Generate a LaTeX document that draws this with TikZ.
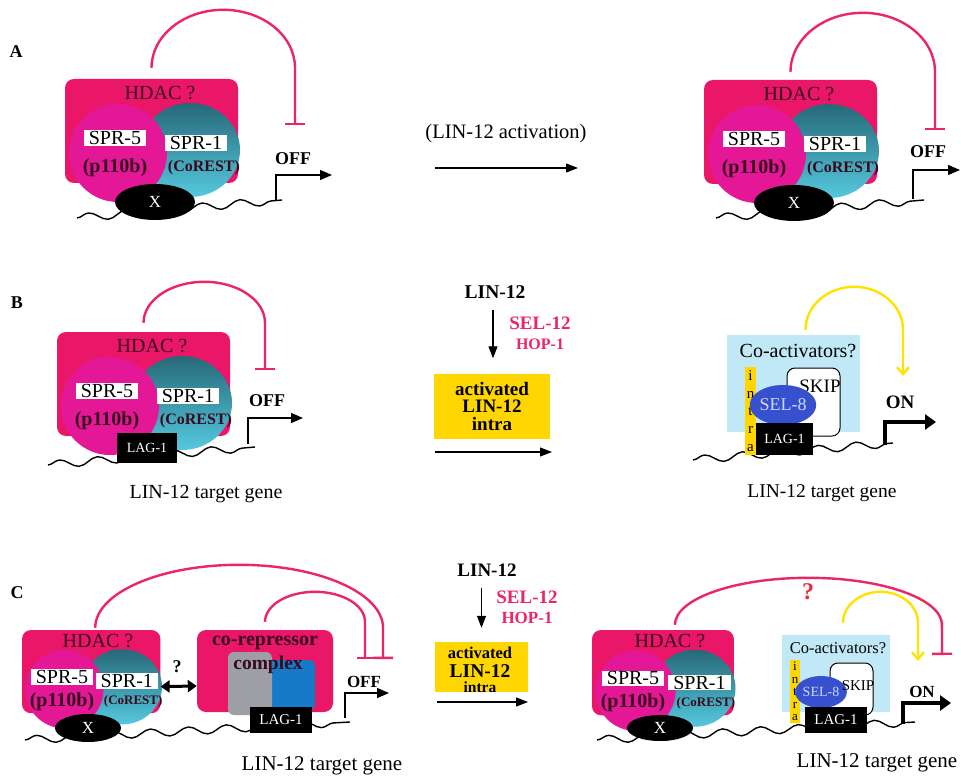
\documentclass[tikz,border=0pt]{standalone}
\usepackage{fontspec}
\setmainfont{Liberation Serif}
\usetikzlibrary{arrows.meta,decorations.pathmorphing,shapes.geometric}

\definecolor{hdacpink}{RGB}{234,22,104}
\definecolor{sprmag}{RGB}{228,24,150}
\definecolor{tealdark}{RGB}{38,105,120}
\definecolor{teallight}{RGB}{85,200,222}
\definecolor{inkdark}{RGB}{55,10,30}
\definecolor{arcpink}{RGB}{236,38,100}
\definecolor{coblue}{RGB}{192,232,246}
\definecolor{intrayel}{RGB}{255,214,0}
\definecolor{selblue}{RGB}{55,80,205}
\definecolor{seltext}{RGB}{205,215,255}
\definecolor{repgray}{RGB}{158,158,165}
\definecolor{repblue}{RGB}{22,122,200}
\definecolor{arcyel}{RGB}{255,226,0}
\definecolor{qred}{RGB}{232,45,60}

% HDAC box with SPR-5 / SPR-1
% #1 name prefix, #2,#3 top left corner, #4 scale, #5 size of (CoREST)
\newcommand{\hdaccomplex}[5]{%
  \begin{scope}[shift={(#2,#3)}, scale=#4]
    \node[hdacbox, minimum width={173*#4}, minimum height={104*#4}] (#1H) at (86.5,52) {};
    \shade[top color=tealdark, bottom color=teallight] (125,71) ellipse[x radius=50, y radius=47];
    \fill[sprmag] (53,74) circle[radius=49];
    \node[font=\fontsize{20}{22}\selectfont, text=inkdark] (#1Hl) at (95,14) {HDAC ?};
    \node[labbox] (#1S5) at (50,59) {SPR-5};
    \node[labbox] (#1S1) at (131,64) {SPR-1};
    \node[font=\bfseries\fontsize{20}{22}\selectfont, text=inkdark] (#1P) at (50,89) {(p110b)};
    \node[font=\bfseries\fontsize{#5}{#5}\selectfont, text=inkdark] (#1C) at (139,89) {(CoREST)};
  \end{scope}}

\begin{document}
\begin{tikzpicture}[x=1pt, y=-1pt,
  hdacbox/.style={rectangle, rounded corners=9pt, fill=hdacpink, inner sep=0pt},
  labbox/.style={fill=white, font=\fontsize{20}{22}\selectfont, inner xsep=5pt, inner ysep=1pt},
  xbody/.style={ellipse, fill=black, text=white, inner sep=0pt, font=\fontsize{17}{19}\selectfont},
  lagbox/.style={fill=black, text=white, inner sep=0pt, font=\fontsize{14}{16}\selectfont},
  dna/.style={line width=1.4pt, decorate, decoration={snake, amplitude=4pt, segment length=38pt}},
  prom/.style={line width=1.3pt, -{Triangle[length=12pt, width=10pt]}},
  promon/.style={line width=4pt, -{Triangle[length=11pt, width=15pt]}},
  inhib/.style={arcpink, line width=2.4pt, -{Bar[width=20pt]}},
  actarc/.style={arcyel, line width=2.4pt, -{Straight Barb[length=7pt, width=12pt]}},
  flow/.style={line width=1.2pt, -{Triangle[length=12pt, width=9pt]}},
  panel/.style={font=\bfseries\fontsize{18}{20}\selectfont},
  gene/.style={font=\fontsize{20}{22}\selectfont},
  state/.style={font=\bfseries\fontsize{18}{20}\selectfont},
  pinktxt/.style={text=arcpink, font=\bfseries\fontsize{19}{21}\selectfont},
  yelbox/.style={fill=intrayel, align=center, inner sep=0pt, font=\bfseries\fontsize{19}{17.5}\selectfont},
  cobox/.style={fill=coblue, inner sep=0pt},
  skipbox/.style={draw=black, line width=1pt, fill=white, rounded corners=8pt, inner sep=0pt},
  selbody/.style={ellipse, fill=selblue, text=seltext, inner sep=0pt, font=\fontsize{18}{20}\selectfont},
  intrastrip/.style={fill=intrayel, align=center, inner xsep=1pt, inner ysep=0pt}]

\fill[white] (0,0) rectangle (961,778);
\useasboundingbox (0,0) rectangle (961,778);

% ---------- A ----------
\node[panel] (pA) at (16,52) {A};
\draw[dna] (77,218) -- (282,200);
\hdaccomplex{a}{65}{79}{1}{16}
\node[xbody, minimum width=80pt, minimum height=36pt] (aX) at (155,202) {X};
\coordinate (aTSS) at (276,201);
\coordinate (aOut) at (332,175);
\draw[prom] (aTSS) |- (aOut);
\node[state] (aOff) at (293,159) {OFF};
\coordinate (aBar) at (295,125);
\draw[inhib] ([yshift=11pt]aH.north) arc[start angle=180, end angle=0, x radius=71.75pt, y radius=58pt] -- (aBar);

\node[gene, font=\fontsize{20.5}{22}\selectfont] (aAct) at (506,134) {(LIN-12 activation)};
\coordinate (aFrom) at (435,168);
\coordinate (aTo) at (578,168);
\draw[flow] (aFrom) -- (aTo);

\draw[dna] (716,218) -- (924,200);
\hdaccomplex{ar}{704}{80}{1}{16}
\node[xbody, minimum width=80pt, minimum height=36pt] (arX) at (794,203) {X};
\coordinate (arTSS) at (913,199);
\coordinate (arOut) at (960,170);
\draw[prom] (arTSS) |- (arOut);
\node[state] (arOff) at (928,152) {OFF};
\coordinate (arBar) at (935,130);
\draw[inhib] ([yshift=8pt]arH.north) arc[start angle=180, end angle=0, x radius=72.25pt, y radius=59pt] -- (arBar);

% ---------- B ----------
\node[panel] (pB) at (17,303) {B};
\draw[dna] (48,465) -- (255,447);
\hdaccomplex{b}{57}{332}{1}{16}
\node[lagbox, minimum width=60pt, minimum height=30pt] (bLag) at (147,448) {LAG-1};
\coordinate (bTSS) at (248,444);
\coordinate (bOut) at (303,418);
\draw[prom] (bTSS) |- (bOut);
\node[state] (bOff) at (267,401) {OFF};
\coordinate (bBar) at (265,370);
\draw[inhib] ([yshift=9pt]bH.north) arc[start angle=180, end angle=0, x radius=60.75pt, y radius=41pt] -- (bBar);
\node[gene] (bGene) at (206,494) {LIN-12 target gene};

\node[state, font=\bfseries\fontsize{19.5}{21}\selectfont] (bLin) at (495,292) {LIN-12};
\node[pinktxt] (bSel) at (540,323) {SEL-12};
\node[pinktxt, font=\bfseries\fontsize{16}{18}\selectfont] (bHop) at (540,344) {HOP-1};
\node[yelbox, minimum width=116pt, minimum height=65pt] (bAct) at (492,406) {activated\\LIN-12\\intra};
\draw[flow] (bLin.south) ++(-2,8) -- ([xshift=1pt, yshift=15pt]bAct.north);
\coordinate (bFrom) at (435,452);
\coordinate (bTo) at (552,452);
\draw[flow] (bFrom) -- (bTo);

\draw[dna] (693,460) -- (893,443);
\node[cobox, minimum width=133pt, minimum height=97pt] (bCo) at (793.5,383.5) {};
\node[gene] (bCoT) at (798,351) {Co-activators?};
\node[skipbox, minimum width=53pt, minimum height=68pt] (bSkip) at (813.5,402) {};
\node[font=\fontsize{19}{21}\selectfont] (bSkipT) at (820,386) {SKIP};
\node[intrastrip, font=\fontsize{15}{17.6}\selectfont, minimum width=11pt, minimum height=88pt] (bIntra) at (750.5,411) {i\\n\\t\\r\\a};
\node[selbody, minimum width=56pt, minimum height=40pt] (bSel8) at (783,405) {SEL-8};
\node[lagbox, minimum width=57pt, minimum height=32pt] (bLag2) at (784.5,439) {LAG-1};
\coordinate (bTSS2) at (885,445);
\coordinate (bOut2) at (936,422);
\draw[promon] (bTSS2) |- (bOut2);
\node[state, font=\bfseries\fontsize{19}{21}\selectfont] (bOn) at (900,402) {ON};
\coordinate (bYEnd) at (903,376);
\draw[actarc] ([xshift=12pt, yshift=5pt]bCo.north) arc[start angle=180, end angle=0, x radius=48.75pt, y radius=43pt] -- (bYEnd);
\node[gene, font=\fontsize{19.5}{21}\selectfont] (bGene2) at (822,493) {LIN-12 target gene};

% ---------- C ----------
\node[panel] (pC) at (17,593) {C};
\draw[dna] (25,740) -- (350,722);
\hdaccomplex{c}{22}{630}{0.8}{13}
\node[xbody, minimum width=66pt, minimum height=28pt] (cX) at (88,728) {X};

\node[hdacbox, minimum width=136pt, minimum height=82pt] (cRep) at (265,671) {};
\node[font=\bfseries\fontsize{20}{22}\selectfont, text=inkdark] (cRepT) at (265,643) {co-repressor};
\node[fill=repblue, rounded corners=6pt, minimum width=45pt, minimum height=50pt] (cBlue) at (292.5,685) {};
\node[fill=repgray, rounded corners=6pt, minimum width=44pt, minimum height=63pt] (cGray) at (250,683.5) {};
\node[font=\bfseries\fontsize{19.5}{21}\selectfont, text=inkdark] (cRepT2) at (268,665) {complex};
\node[lagbox, font=\fontsize{15}{17}\selectfont, minimum width=62pt, minimum height=26pt] (cLag) at (281,720) {LAG-1};
\draw[line width=3pt, {Triangle[length=9pt, width=12pt]}-{Triangle[length=9pt, width=12pt]}]
  ([yshift=-15pt]cH.east) -- ([yshift=-15pt]cRep.west);
\node[font=\bfseries\fontsize{18}{20}\selectfont] (cQ) at (177,667) {?};

\coordinate (cTSS) at (345,718);
\coordinate (cOut) at (389,693);
\draw[prom] (cTSS) |- (cOut);
\node[state, font=\bfseries\fontsize{17}{19}\selectfont] (cOff) at (364,682) {OFF};
\coordinate (cBar) at (383,659);
\draw[inhib] ([xshift=4pt, yshift=2pt]cH.north) arc[start angle=180, end angle=0, x radius=143.9pt, y radius=63pt] -- (cBar);
\coordinate (cBar2) at (365,659);
\draw[inhib, -{Bar[width=16pt]}] ([yshift=8pt]cRep.north) arc[start angle=180, end angle=0, x radius=50pt, y radius=30pt] -- (cBar2);
\node[gene, font=\fontsize{21}{23}\selectfont] (cGene) at (322,766) {LIN-12 target gene};

\node[state, font=\bfseries\fontsize{19}{21}\selectfont] (cLin) at (487,570) {LIN-12};
\node[pinktxt] (cSel) at (527,597) {SEL-12};
\node[pinktxt, font=\bfseries\fontsize{17}{19}\selectfont] (cHop) at (527,618) {HOP-1};
\node[fill=intrayel, minimum width=93pt, minimum height=50pt] (cAct) at (481.5,667) {};
\node[font=\bfseries\fontsize{16.5}{18}\selectfont] (cActT1) at (480,653) {activated};
\node[font=\bfseries\fontsize{19.5}{21}\selectfont] (cActT2) at (480,671) {LIN-12};
\node[font=\bfseries\fontsize{15.5}{17}\selectfont] (cActT3) at (480,687) {intra};
\draw[flow] ([yshift=-8pt]cLin.south -| cAct.north) -- ([yshift=14pt]cAct.north);
\coordinate (cFrom) at (437,702);
\coordinate (cTo) at (528,702);
\draw[flow] (cFrom) -- (cTo);

\draw[dna] (597,740) -- (915,722);
\hdaccomplex{cr}{592}{630}{0.82}{13}
\node[xbody, minimum width=66pt, minimum height=26pt] (crX) at (660,728) {X};
\node[cobox, minimum width=108pt, minimum height=77pt] (crCo) at (836,673.5) {};
\node[font=\fontsize{16.5}{18}\selectfont] (crCoT) at (838,648) {Co-activators?};
\node[skipbox, minimum width=43pt, minimum height=52pt] (crSkip) at (851.5,689) {};
\node[intrastrip, font=\fontsize{13}{12.6}\selectfont, minimum width=10pt, minimum height=63pt] (crIntra) at (795,691.5) {i\\n\\t\\r\\a};
\node[selbody, font=\fontsize{14}{16}\selectfont, minimum width=44pt, minimum height=32pt] (crSel8) at (821,692) {SEL-8};
\node[font=\fontsize{15}{17}\selectfont] (crSkipT) at (858,686) {SKIP};
\node[lagbox, font=\fontsize{15}{17}\selectfont, minimum width=62pt, minimum height=26pt] (crLag) at (836,720) {LAG-1};
\coordinate (crTSS) at (903,724);
\coordinate (crOut) at (951,703);
\draw[promon] (crTSS) |- (crOut);
\node[state, font=\bfseries\fontsize{17}{19}\selectfont] (crOn) at (922,692) {ON};
\coordinate (crYEnd) at (918,661);
\draw[actarc] ([xshift=7pt, yshift=12pt]crCo.north) arc[start angle=180, end angle=0, x radius=37.5pt, y radius=31pt] -- (crYEnd);
\coordinate (crBar) at (942,655);
\draw[inhib] ([xshift=12pt, yshift=5pt]crH.north) arc[start angle=180, end angle=0, x radius=133.5pt, y radius=47pt] -- (crBar);
\node[font=\bfseries\fontsize{24}{26}\selectfont, text=qred] (crQ) at (808,592) {?};
\node[gene, font=\fontsize{21}{23}\selectfont] (crGene) at (877,763) {LIN-12 target gene};

\end{tikzpicture}
\end{document}
